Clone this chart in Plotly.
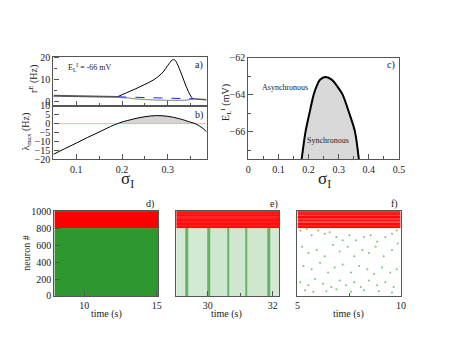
import plotly.graph_objects as go

W, H = 457, 353
FONT = "Liberation Serif"

# ---- panel a: firing rate vs sigma_I ----
sig_left = [0.05, 0.1, 0.15, 0.19]
r_left = [2.6, 2.45, 2.3, 2.1]
sig_osc = [0.19, 0.21, 0.23, 0.25, 0.27, 0.29, 0.30, 0.31, 0.315, 0.32, 0.33, 0.34, 0.35, 0.355]
r_max = [2.1, 4.0, 5.8, 7.8, 10.0, 13.5, 16.5, 19.0, 19.0, 17.5, 12.5, 7.0, 2.5, 1.2]
r_min = [2.1, 1.6, 1.2, 0.9, 0.7, 0.55, 0.5, 0.45, 0.45, 0.45, 0.5, 0.6, 0.9, 1.2]
sig_unst = [0.19, 0.355]
r_unst = [2.1, 1.2]
sig_right = [0.355, 0.385]
r_right = [1.2, 0.8]

# ---- panel b: max eigenvalue ----
sig_b = [0.05, 0.075, 0.1, 0.125, 0.15, 0.175, 0.19, 0.2, 0.225, 0.25, 0.275,
         0.3, 0.325, 0.35, 0.36, 0.375, 0.385]
lam = [-17.2, -14.0, -10.9, -7.7, -4.7, -1.6, 0.0, 0.9, 2.6, 3.9, 4.5,
       4.1, 2.8, 0.8, 0.0, -2.3, -4.5]

# ---- panel c: phase diagram ----
sig_c = [0.177, 0.19, 0.203, 0.217, 0.228, 0.238, 0.256, 0.278, 0.293, 0.313, 0.335, 0.354, 0.367]
E_c = [-67.5, -66.0, -65.0, -64.0, -63.5, -63.2, -63.05, -63.2, -63.5, -64.0, -65.0, -66.0, -67.5]

# ---- rasters (spike densities) ----
d_t = [7.95, 15.1]
d_exc = 0.82
d_inh = 1.0

e_t_edges = [29.03, 29.32, 29.4, 29.99, 30.07, 30.59, 30.67, 31.14, 31.22, 31.83, 31.91, 32.2]
e_exc = [0.17, 0.6, 0.17, 0.6, 0.19, 0.6, 0.19, 0.6, 0.19, 0.6, 0.17]
inh_rows = [800, 820, 840, 860, 880, 900, 920, 940, 960, 980, 1000]
e_inh = [0.95, 0.85, 0.95, 0.88, 0.97, 0.9, 0.85, 0.95, 0.9, 0.93]
f_inh = [0.95, 0.8, 0.97, 0.7, 0.95, 0.78, 0.97, 0.72, 0.9, 0.88]

f_t = [5.14, 5.45, 5.69, 6.01, 6.32, 6.56, 6.88, 7.19, 7.51, 7.83, 8.22, 8.54, 8.85, 9.25, 9.57, 9.80,
       5.22, 5.53, 5.93, 6.32, 6.72, 7.04, 7.43, 7.75, 8.14, 8.46, 8.78, 9.17, 9.57, 9.85,
       5.29, 5.69, 6.09, 6.48, 6.80, 7.19, 7.59, 7.98, 8.38, 8.70, 9.09, 9.49, 9.80,
       5.14, 5.53, 5.85, 6.24, 6.64, 7.04, 7.35, 7.75, 8.06, 8.46, 8.85, 9.25, 9.65,
       5.37, 5.77, 6.40, 6.88, 7.59, 8.22, 8.93, 9.57]
f_n = [771, 790, 714, 771, 733, 752, 695, 657, 714, 657, 695, 714, 638, 695, 733, 771,
       581, 505, 543, 467, 600, 524, 581, 467, 543, 505, 581, 467, 543, 619,
       353, 315, 391, 277, 334, 372, 277, 353, 315, 258, 334, 277, 315,
       163, 125, 201, 144, 106, 182, 125, 163, 106, 182, 125, 163, 106,
       68, 49, 57, 79, 49, 68, 57, 41]


def px(x):
    return x / W


def py(y):
    return 1 - y / H


fig = go.Figure()

# panel a
fig.add_trace(go.Scatter(x=sig_left, y=r_left, mode="lines", line=dict(color="#555", width=1.8), xaxis="x", yaxis="y"))
fig.add_trace(go.Scatter(x=sig_osc, y=r_min, mode="lines", line=dict(color="#999", width=1.3, shape="spline"), xaxis="x", yaxis="y"))
fig.add_trace(go.Scatter(x=sig_osc, y=r_max, mode="lines", line=dict(color="black", width=1, shape="spline"), xaxis="x", yaxis="y"))
fig.add_trace(go.Scatter(x=sig_unst, y=r_unst, mode="lines", line=dict(color="#2222ff", width=1, dash="dash"), xaxis="x", yaxis="y"))
fig.add_trace(go.Scatter(x=sig_right, y=r_right, mode="lines", line=dict(color="#555", width=1.5), xaxis="x", yaxis="y"))

# panel b
pos = [(s, l) for s, l in zip(sig_b, lam) if l >= 0]
fig.add_trace(go.Scatter(x=[p[0] for p in pos], y=[p[1] for p in pos], mode="lines", fill="tozeroy",
                         fillcolor="#d4d4d4", line=dict(width=0, shape="spline"), xaxis="x2", yaxis="y2"))
fig.add_trace(go.Scatter(x=[sig_b[0], sig_b[-1]], y=[0, 0], mode="lines", line=dict(color="#ff9a9a", width=0.8), xaxis="x2", yaxis="y2"))
fig.add_trace(go.Scatter(x=sig_b, y=lam, mode="lines", line=dict(color="black", width=1, shape="spline"), xaxis="x2", yaxis="y2"))

# panel c
fig.add_trace(go.Scatter(x=sig_c, y=E_c, mode="lines", fill="toself", fillcolor="#d9d9d9",
                         line=dict(color="black", width=2, shape="spline", smoothing=0.8), xaxis="x3", yaxis="y3"))

green = [[0, "white"], [1, "#008000"]]
red = [[0, "white"], [1, "#ff0000"]]

# panel d
fig.add_trace(go.Heatmap(x=d_t, y=[0, 800], z=[[d_exc]], colorscale=green, zmin=0, zmax=1, showscale=False, xaxis="x4", yaxis="y4"))
fig.add_trace(go.Heatmap(x=d_t, y=[800, 1000], z=[[d_inh]], colorscale=red, zmin=0, zmax=1, showscale=False, xaxis="x4", yaxis="y4"))

# panel e
fig.add_trace(go.Heatmap(x=e_t_edges, y=[0, 800], z=[e_exc], colorscale=green, zmin=0, zmax=1, showscale=False, xaxis="x5", yaxis="y5"))
fig.add_trace(go.Heatmap(x=[e_t_edges[0], e_t_edges[-1]], y=inh_rows, z=[[v] for v in e_inh], colorscale=red, zmin=0, zmax=1,
                         showscale=False, xaxis="x5", yaxis="y5"))

# panel f
fig.add_trace(go.Heatmap(x=[5, 10], y=inh_rows, z=[[v] for v in f_inh], colorscale=red, zmin=0, zmax=1,
                         showscale=False, xaxis="x6", yaxis="y6"))
fig.add_trace(go.Scatter(x=f_t, y=f_n, mode="markers", marker=dict(color="#4caf4c", size=2, opacity=0.75), xaxis="x6", yaxis="y6"))

ax = dict(showline=True, mirror=True, linecolor="#555", linewidth=1.3, ticks="inside", ticklen=5, tickcolor="#555",
          showgrid=False, zeroline=False, tickfont=dict(family=FONT, size=10, color="#222"))
mn = dict(ticks="inside", ticklen=3, tickcolor="#555", showgrid=False)

xa_dom = [px(52.3), px(208.3)]
fig.update_layout(
    width=W, height=H, margin=dict(l=0, r=0, t=0, b=0), showlegend=False,
    paper_bgcolor="white", plot_bgcolor="white",
    xaxis=dict(ax, domain=xa_dom, range=[0.05, 0.385], anchor="y", showticklabels=False, dtick=0.1, tick0=0,
               minor=dict(mn, dtick=0.05)),
    yaxis=dict(ax, domain=[py(103), py(52.3)], range=[-2, 20.5], anchor="x", dtick=10, minor=dict(mn, dtick=5)),
    xaxis2=dict(ax, domain=xa_dom, range=[0.05, 0.385], anchor="y2", dtick=0.1, tick0=0, minor=dict(mn, dtick=0.05)),
    yaxis2=dict(ax, domain=[py(158.3), py(103)], range=[-20, 10], anchor="x2", dtick=5),
    xaxis3=dict(ax, domain=[px(250.7), px(404)], range=[0, 0.5], anchor="y3", dtick=0.1, tick0=0, minor=dict(mn, dtick=0.05)),
    yaxis3=dict(ax, domain=[py(158.3), py(53.3)], range=[-67.5, -62], anchor="x3", dtick=2, tick0=-62, minor=dict(mn, dtick=1)),
    xaxis4=dict(ax, domain=[px(53.3), px(159)], range=[7.95, 15.1], anchor="y4", tickvals=[10, 15]),
    yaxis4=dict(ax, domain=[py(299.3), py(211.7)], range=[0, 1000], anchor="x4", dtick=200),
    xaxis5=dict(ax, domain=[px(177.3), px(282.3)], range=[29.03, 32.2], anchor="y5", tickvals=[30, 32],
                minor=dict(mn, tickvals=[31])),
    yaxis5=dict(ax, domain=[py(299.3), py(211.7)], range=[0, 1000], anchor="x5", showticklabels=False, ticks=""),
    xaxis6=dict(ax, domain=[px(300.7), px(406)], range=[5, 10], anchor="y6", tickvals=[5, 10],
                minor=dict(mn, tickvals=[7.5])),
    yaxis6=dict(ax, domain=[py(299.3), py(211.7)], range=[0, 1000], anchor="x6", showticklabels=False, ticks=""),
)


def note(text, x, y, size=10, angle=0, xanchor="center"):
    fig.add_annotation(text=text, x=px(x), y=py(y), xref="paper", yref="paper", showarrow=False,
                       textangle=angle, xanchor=xanchor, yanchor="middle",
                       font=dict(family=FONT, size=size, color="#222"))


note("E<sub>L</sub><sup>I</sup> = -66 mV", 65, 63, size=8, xanchor="left")
note("a)", 201, 61)
note("b)", 201, 113)
note("c)", 396, 61)
note("d)", 151, 204)
note("e)", 277, 204)
note("f)", 399, 204)
note("Asynchronous", 288, 84, size=8)
note("Synchronous", 332, 139, size=8)
note("r<sup>E</sup> (Hz)", 32, 75, angle=-90)
note("λ<sub>max</sub> (Hz)", 25, 130, angle=-90)
note("E<sub>L</sub><sup>I</sup> (mV)", 228, 100, angle=-90)
note("σ<sub>I</sub>", 128, 180, size=17)
note("σ<sub>I</sub>", 328, 180, size=17)
note("neuron #", 24, 255, angle=-90)
note("time (s)", 106, 318)
note("time (s)", 229, 318)
note("time (s)", 353, 318)

# remove the default page margin so the figure sits at the window's top-left corner
fig.write_html("out.html", config={"displayModeBar": False},
               post_script="document.body.style.margin='0';")
